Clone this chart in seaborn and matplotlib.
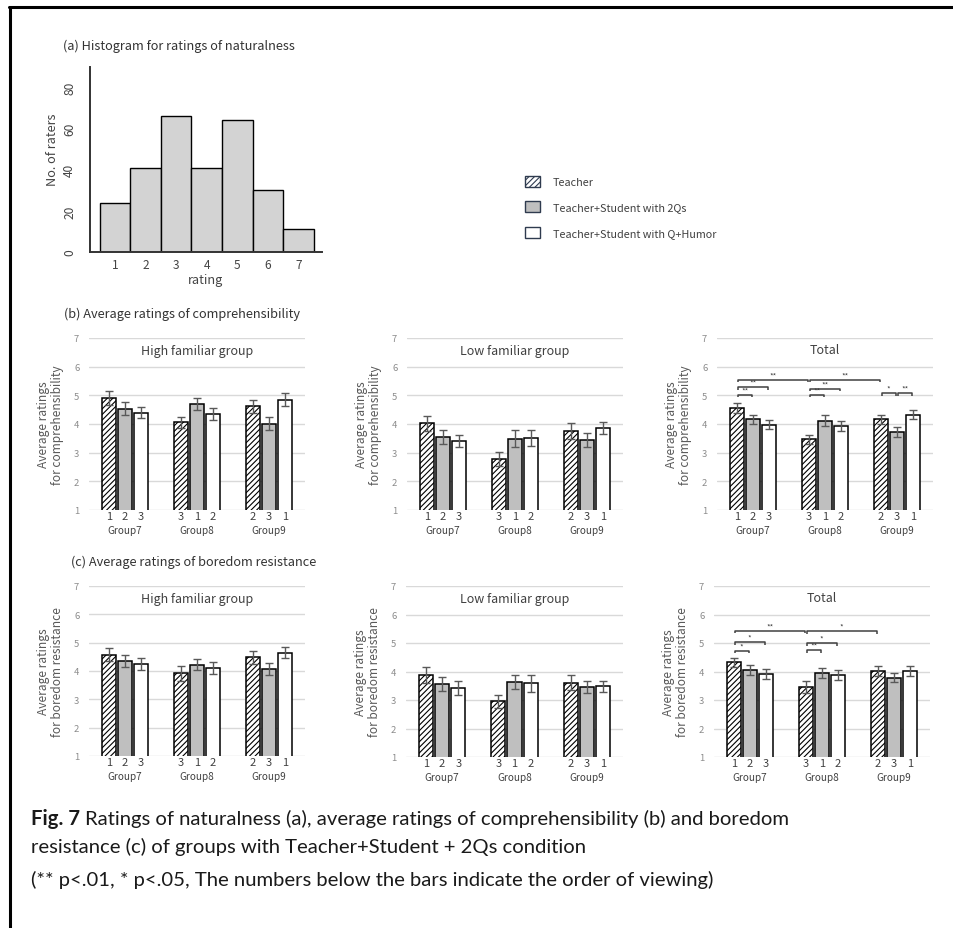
import numpy as np
import pandas as pd
import matplotlib
matplotlib.use("Agg")
import matplotlib.pyplot as plt
import seaborn as sns
from matplotlib.lines import Line2D
from matplotlib.patches import Patch

sns.set_theme(style="white")
plt.rcParams['font.family'] = ['Noto Sans CJK JP', 'DejaVu Sans']
plt.rcParams['hatch.linewidth'] = 0.8

# ---------------- data ----------------
# (a) naturalness histogram
ratings = [1, 2, 3, 4, 5, 6, 7]
raters = [24, 41, 66, 41, 64, 30, 11]

groups = ["Group7", "Group8", "Group9"]
conditions = ["Teacher", "Teacher+Student with 2Qs", "Teacher+Student with Q+Humor"]
# order of viewing of each condition inside a group
view_order = [[1, 2, 3], [3, 1, 2], [2, 3, 1]]

# (b) comprehensibility, one row per group: Teacher, 2Qs, Q+Humor
comp_high = [[4.91, 4.54, 4.40], [4.06, 4.69, 4.35], [4.62, 4.01, 4.85]]
comp_high_err = [[0.23, 0.22, 0.20], [0.20, 0.21, 0.21], [0.23, 0.22, 0.22]]
comp_low = [[4.03, 3.55, 3.41], [2.78, 3.49, 3.52], [3.75, 3.43, 3.86]]
comp_low_err = [[0.26, 0.25, 0.22], [0.23, 0.29, 0.28], [0.27, 0.24, 0.20]]
comp_total = [[4.56, 4.16, 3.97], [3.46, 4.12, 3.93], [4.16, 3.71, 4.33]]
comp_total_err = [[0.16, 0.17, 0.16], [0.17, 0.19, 0.19], [0.17, 0.17, 0.17]]

# (c) boredom resistance
bore_high = [[4.58, 4.36, 4.24], [3.92, 4.22, 4.10], [4.48, 4.07, 4.65]]
bore_high_err = [[0.24, 0.22, 0.22], [0.26, 0.20, 0.22], [0.22, 0.22, 0.20]]
bore_low = [[3.88, 3.56, 3.42], [2.96, 3.63, 3.59], [3.61, 3.45, 3.48]]
bore_low_err = [[0.28, 0.25, 0.25], [0.23, 0.25, 0.30], [0.25, 0.22, 0.20]]
bore_total = [[4.32, 4.06, 3.91], [3.46, 3.94, 3.88], [4.02, 3.78, 4.02]]
bore_total_err = [[0.17, 0.18, 0.19], [0.21, 0.17, 0.19], [0.18, 0.16, 0.17]]

# significance brackets: (group, condition) -> (group, condition), height, label
comp_sig = [((0, 0), (0, 1), 5.02, "**"), ((0, 0), (0, 2), 5.28, "**"),
            ((0, 0), (1, 0), 5.55, "**"), ((1, 0), (1, 1), 5.02, "**"),
            ((1, 0), (1, 2), 5.23, "**"), ((1, 0), (2, 0), 5.55, "**"),
            ((2, 0), (2, 1), 5.08, "*"), ((2, 1), (2, 2), 5.08, "**")]
bore_sig = [((0, 0), (0, 1), 4.73, "*"), ((0, 0), (0, 2), 5.03, "*"),
            ((0, 0), (1, 0), 5.43, "**"), ((1, 0), (1, 1), 4.75, "**"),
            ((1, 0), (1, 2), 4.99, "*"), ((1, 0), (2, 0), 5.42, "*")]

# ---------------- layout helpers (pixel based) ----------------
W, H = 954, 929
fig = plt.figure(figsize=(W / 100, H / 100), dpi=100)
fig.patch.set_facecolor("white")


def fx(x):
    return x / W


def fy(y):
    return 1 - y / H


def rect(l, t, r, b):
    return [l / W, 1 - b / H, (r - l) / W, (b - t) / H]


TXT = "#404040"
GRID = "#D9D9D9"
fills = {"Teacher": "white", "Teacher+Student with 2Qs": "#BFBFBF",
         "Teacher+Student with Q+Humor": "white"}

# frame around the figure
fig.add_artist(Line2D([fx(10.5), fx(10.5)], [fy(8), fy(929)], color="black", lw=2.2))
fig.add_artist(Line2D([fx(9.5), fx(954)], [fy(8), fy(8)], color="black", lw=2.2))

# ---------------- (a) histogram ----------------
fig.text(fx(63), fy(46), "(a) Histogram for ratings of naturalness", fontsize=9.2,
         color="#333333", va="center", ha="left")
axh = fig.add_axes(rect(90, 68, 322, 253))
sns.histplot(x=ratings, weights=raters, discrete=True, color="#D3D3D3",
             edgecolor="black", linewidth=1.0, alpha=1, ax=axh)
axh.set_xlim(0.19, 7.76)
axh.set_ylim(0, 90)
axh.set_xticks(ratings)
axh.set_yticks([0, 20, 40, 60, 80])
axh.tick_params(axis="both", length=0, labelsize=8.6, colors="#444444")
axh.tick_params(axis="x", pad=4)
axh.tick_params(axis="y", pad=10)
for lab in axh.get_yticklabels():
    lab.set_rotation(90)
    lab.set_va("center")
for s in ["top", "right"]:
    axh.spines[s].set_visible(False)
for s in ["left", "bottom"]:
    axh.spines[s].set_color("#333333")
    axh.spines[s].set_linewidth(1.4)
axh.set_xlabel("rating", fontsize=9.2, color="#444444", labelpad=2)
axh.set_ylabel("No. of raters", fontsize=9.2, color="#444444")
axh.yaxis.set_label_coords(-31 / 232, 0.56)
axh.set_facecolor("white")

# ---------------- legend ----------------
handles = [Patch(facecolor="white", edgecolor="#2F3B4F", hatch="//////", lw=1.0),
           Patch(facecolor="#BFBFBF", edgecolor="#2F3B4F", lw=1.0),
           Patch(facecolor="white", edgecolor="#2F3B4F", lw=1.0)]
fig.legend(handles, conditions, loc="upper left",
           bbox_to_anchor=(fx(525), fy(177)), frameon=False, fontsize=7.8,
           handlelength=1.35, handleheight=1.2, handletextpad=1.2,
           labelspacing=1.3, labelcolor=TXT, borderpad=0, borderaxespad=0)


# ---------------- bar panels ----------------
def bar_panel(box, values, errors, title, ylabel, sig=None, title_y=6.55):
    ax = fig.add_axes(rect(*box))
    rows = []
    for gi, g in enumerate(groups):
        for ci, c in enumerate(conditions):
            rows.append({"group": g, "condition": c, "rating": values[gi][ci]})
    df = pd.DataFrame(rows)
    sns.barplot(data=df, x="group", y="rating", hue="condition", order=groups,
                hue_order=conditions, palette=fills, width=0.667, gap=0.12,
                edgecolor="black", linewidth=1.1, errorbar=None, legend=False,
                ax=ax)
    # hatched Teacher bars
    for p in ax.containers[0]:
        p.set_hatch("//////")
        p.set_facecolor("white")
    centers = np.zeros((3, 3))
    for ci, cont in enumerate(ax.containers):
        for gi, p in enumerate(cont):
            centers[gi, ci] = p.get_x() + p.get_width() / 2
    ax.errorbar(centers.ravel(), np.array(values).ravel(),
                yerr=np.array(errors).ravel(), fmt="none", ecolor="#595959",
                elinewidth=1.0, capsize=2.6, capthick=1.0, zorder=5)
    ax.set_xlim(-0.5, 2.5)
    ax.set_ylim(1, 7)
    ax.set_yticks(range(1, 8))
    ax.yaxis.grid(True, color=GRID, lw=1.0)
    ax.xaxis.grid(False)
    ax.set_axisbelow(True)
    for s in ax.spines.values():
        s.set_visible(False)
    ax.set_facecolor("white")
    ax.tick_params(axis="y", length=0, labelsize=6.8, colors="#8C8C8C", pad=7)
    ax.set_xticks(centers.ravel())
    ax.set_xticklabels([str(v) for row in view_order for v in row])
    ax.tick_params(axis="x", length=0, labelsize=8.0, colors=TXT, pad=0.5)
    for gi, g in enumerate(groups):
        ax.annotate(g, xy=(gi, 0), xycoords=ax.get_xaxis_transform(),
                    xytext=(0, -14.5), textcoords="offset points",
                    ha="center", va="center", fontsize=7.2, color=TXT)
    ax.set_xlabel("")
    ax.set_ylabel(ylabel, fontsize=8.6, color="#595959", linespacing=1.05)
    ax.yaxis.set_label_coords(-25 / 216, 0.5)
    ax.text(1.0, title_y, title, ha="center", va="center", fontsize=9.0,
            color=TXT)
    if sig:
        for (a, b, yv, lab) in sig:
            x1 = centers[a[0], a[1]] + 0.01
            x2 = centers[b[0], b[1]] - 0.02
            ax.plot([x1, x1, x2, x2], [yv - 0.09, yv, yv, yv - 0.09],
                    color="#404040", lw=1.1, solid_capstyle="butt", zorder=6)
            ax.text((x1 + x2) / 2, yv + 0.01, lab, ha="center", va="bottom",
                    fontsize=5.6, color="#404040")
    return ax


fig.text(fx(64), fy(314), "(b) Average ratings of comprehensibility", fontsize=9.2,
         color="#333333", va="center", ha="left")
lab_b = "Average ratings\nfor comprehensibility"
bar_panel((89, 339, 305, 511), comp_high, comp_high_err, "High familiar group", lab_b)
bar_panel((407, 339, 623, 511), comp_low, comp_low_err, "Low familiar group", lab_b)
bar_panel((717, 339, 933, 511), comp_total, comp_total_err, "Total", lab_b,
          sig=comp_sig, title_y=6.6)

fig.text(fx(71), fy(562), "(c) Average ratings of boredom resistance", fontsize=9.2,
         color="#333333", va="center", ha="left")
lab_c = "Average ratings\nfor boredom resistance"
bar_panel((89, 587, 305, 757), bore_high, bore_high_err, "High familiar group", lab_c)
bar_panel((406, 587, 623, 758), bore_low, bore_low_err, "Low familiar group", lab_c)
bar_panel((714, 587, 930, 758), bore_total, bore_total_err, "Total", lab_c,
          sig=bore_sig, title_y=6.6)

# ---------------- caption ----------------
cap_font = ["Lato", "DejaVu Sans"]
cap_size = 14.6
t_bold = fig.text(fx(31), fy(819), "Fig. 7", fontsize=cap_size, fontweight="bold",
                  family=cap_font, color="#1a1a1a", va="center", ha="left")
fig.canvas.draw()
bb = t_bold.get_window_extent()
fig.text(fx(31) + (bb.width + 5) / W, fy(819),
         "Ratings of naturalness (a), average ratings of comprehensibility (b) and boredom",
         fontsize=cap_size, family=cap_font, color="#1a1a1a", va="center", ha="left")
fig.text(fx(31), fy(847),
         "resistance (c) of groups with Teacher+Student + 2Qs condition",
         fontsize=cap_size, family=cap_font, color="#1a1a1a", va="center", ha="left")
fig.text(fx(31), fy(880),
         "(** p<.01, * p<.05, The numbers below the bars indicate the order of viewing)",
         fontsize=cap_size, family=cap_font, color="#1a1a1a", va="center", ha="left")

fig.savefig("out.png", dpi=100, facecolor="white")
